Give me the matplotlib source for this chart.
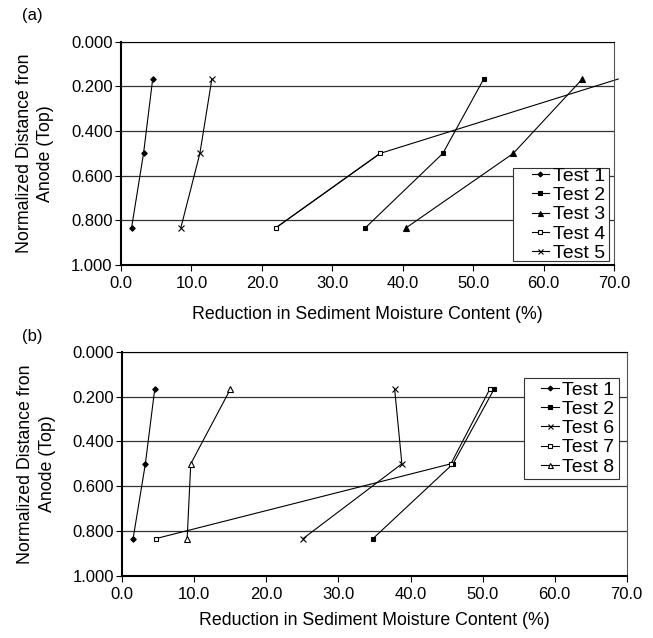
import matplotlib
matplotlib.use("Agg")
import matplotlib.pyplot as plt
from matplotlib.patches import Rectangle

plt.rcParams['font.family'] = ['Liberation Sans', 'DejaVu Sans']

# depth positions (normalized distance from anode)
depth = [0.167, 0.500, 0.833]

# panel (a) - reduction in moisture content (%) at each depth
a_labels = ['Test 1', 'Test 2', 'Test 3', 'Test 4', 'Test 5']
a_test1 = [4.5, 3.2, 1.5]
a_test2 = [51.5, 45.7, 34.7]
a_test3 = [65.5, 55.7, 40.5]
a_test4 = [70.6, 36.8, 22.0]
a_test5 = [12.9, 11.2, 8.5]

# panel (b)
b_labels = ['Test 1', 'Test 2', 'Test 6', 'Test 7', 'Test 8']
b_test1 = [4.5, 3.2, 1.5]
b_test2 = [51.6, 45.9, 34.8]
b_test6 = [37.8, 38.8, 25.1]
b_test7 = [51.0, 45.6, 4.7]
b_test8 = [15.0, 9.5, 9.0]

xticks = [0, 10, 20, 30, 40, 50, 60, 70]
yticks = [0.0, 0.2, 0.4, 0.6, 0.8, 1.0]

fig = plt.figure(figsize=(6.53, 6.38), dpi=100)
ax_a = fig.add_axes([0.1853, 0.5846, 0.755, 0.350])
ax_b = fig.add_axes([0.1873, 0.0972, 0.7724, 0.3516])

styles = {
    'Test 1': dict(marker='D', mfc='k', ms=2.8),
    'Test 2': dict(marker='s', mfc='k', ms=3.2),
    'Test 3': dict(marker='^', mfc='k', ms=4),
    'Test 4': dict(marker='s', mfc='white', ms=3.2),
    'Test 5': dict(marker='x', mfc='k', ms=4),
    'Test 6': dict(marker='x', mfc='k', ms=4),
    'Test 7': dict(marker='s', mfc='white', ms=3.2),
    'Test 8': dict(marker='^', mfc='white', ms=4),
}


def draw(ax, labels, series, box, xpad):
    for lab, xs in zip(labels, series):
        st = styles[lab]
        kw = dict(color='k', lw=0.8, mec='k', mew=0.8, label=lab, **st)
        if max(xs) > 70:
            # point beyond the axis: draw the line only, no marker
            ax.plot(xs, depth, color='k', lw=0.8, clip_on=False)
            ax.plot(xs[1:], depth[1:], **kw)
        else:
            ax.plot(xs, depth, **kw)
    ax.set_xlim(0, 70)
    ax.set_ylim(1.0, 0.0)
    ax.set_xticks(xticks)
    ax.set_xticklabels(['%.1f' % v for v in xticks])
    ax.set_yticks(yticks)
    ax.set_yticklabels(['%.3f' % v for v in yticks])
    ax.tick_params(labelsize=12, direction='out', length=4, width=0.8)
    ax.tick_params(axis='x', pad=4)
    ax.tick_params(axis='y', pad=2)
    ax.yaxis.grid(True, color='#333333', lw=0.9)
    ax.set_axisbelow(True)
    ax.spines['left'].set_linewidth(1.5)
    ax.spines['bottom'].set_linewidth(1.5)
    ax.spines['top'].set_linewidth(0.8)
    ax.spines['right'].set_linewidth(0.8)
    ax.spines['right'].set_color('#555555')
    ax.set_xlabel('Reduction in Sediment Moisture Content (%)', fontsize=12.8, labelpad=xpad)
    ax.set_ylabel('Normalized Distance fron\nAnode (Top)', fontsize=12.8, labelpad=12,
                  linespacing=1.35)

    # legend box (Excel style: entries right-aligned inside a wider frame)
    x0, y0, w, h = box
    ax.add_patch(Rectangle((x0, y0), w, h, transform=ax.transAxes, fc='white',
                           ec='#333333', lw=0.8, zorder=4, clip_on=False))
    ax.legend(loc='center right', bbox_to_anchor=(x0 + w - 0.008, y0 + h / 2),
              fontsize=14, handlelength=0.9, handletextpad=0.2, labelspacing=0.08,
              borderpad=0.0, borderaxespad=0, frameon=False, markerscale=0.9)


draw(ax_a, a_labels, [a_test1, a_test2, a_test3, a_test4, a_test5],
     (0.795, 0.018, 0.195, 0.416), 11)
draw(ax_b, b_labels, [b_test1, b_test2, b_test6, b_test7, b_test8],
     (0.796, 0.432, 0.188, 0.451), 7)

fig.text(0.049, 0.976, '(a)', fontsize=12, ha='center', va='center')
fig.text(0.050, 0.472, '(b)', fontsize=12, ha='center', va='center')

fig.savefig('out.png', dpi=100)
